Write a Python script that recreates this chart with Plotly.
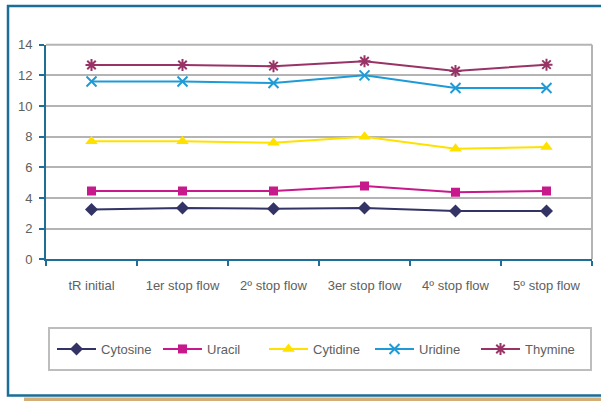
import plotly.graph_objects as go

categories = ['tR initial', '1er stop flow', '2º stop flow', '3er stop flow', '4º stop flow', '5º stop flow']
cytosine = [3.25, 3.35, 3.3, 3.35, 3.15, 3.15]
uracil = [4.45, 4.45, 4.45, 4.78, 4.37, 4.45]
cytidine = [7.7, 7.7, 7.6, 8.0, 7.22, 7.32]
uridine = [11.6, 11.6, 11.5, 12.0, 11.18, 11.18]
thymine = [12.68, 12.68, 12.6, 12.92, 12.28, 12.7]
y_ticks = [0, 2, 4, 6, 8, 10, 12, 14]

series = [
    ('Cytosine', cytosine, '#333366', 'diamond', 10),
    ('Uracil', uracil, '#C8198C', 'square', 9),
    ('Cytidine', cytidine, '#FFE100', 'triangle-up', 11),
    ('Uridine', uridine, '#1E9BD7', 'x-thin-open', 10),
    ('Thymine', thymine, '#993366', 'asterisk-open', 10),
]

W, H = 601, 401
axis_blue = '#1F6E96'
grid_gray = '#B4B4B4'
text_gray = '#606060'
font_family = 'Liberation Sans, Arial, sans-serif'

fig = go.Figure()
for name, vals, color, symbol, size in series:
    fig.add_trace(go.Scatter(
        x=categories, y=vals, name=name, mode='lines+markers',
        line=dict(color=color, width=2),
        marker=dict(symbol=symbol, size=size, color=color,
                    line=dict(color=color, width=2 if 'open' in symbol else 0))))

x0, x1 = 46 / W, 592 / W
y0, y1 = 1 - 259.3 / H, 1 - 44.7 / H

fig.update_xaxes(type='category', domain=[x0, x1], range=[-0.5, 5.5],
                 tickson='boundaries', ticks='outside', ticklen=5, tickwidth=2,
                 tickcolor=axis_blue, showline=True, linecolor=axis_blue, linewidth=2,
                 showgrid=False, ticklabelstandoff=13, automargin=False,
                 tickfont=dict(family=font_family, size=13, color=text_gray))
fig.update_yaxes(domain=[y0, y1], range=[0, 14], tickvals=y_ticks,
                 ticks='outside', ticklen=5, tickwidth=2, tickcolor=axis_blue,
                 showline=True, linecolor=axis_blue, linewidth=2,
                 showgrid=True, gridcolor=grid_gray, gridwidth=2, zeroline=False,
                 ticklabelstandoff=4, automargin=False,
                 tickfont=dict(family=font_family, size=13, color=text_gray))

shapes = [
    # plot area top/right border
    dict(type='line', xref='x domain', yref='y domain', x0=0, x1=1, y0=1, y1=1,
         line=dict(color=grid_gray, width=2), layer='below'),
    dict(type='line', xref='x domain', yref='y domain', x0=1, x1=1, y0=0, y1=1,
         line=dict(color=grid_gray, width=2), layer='below'),
    # legend box
    dict(type='rect', xref='paper', yref='paper', x0=49 / W, x1=591 / W,
         y0=1 - 370 / H, y1=1 - 328 / H, line=dict(color='#BDBDBD', width=2)),
    # outer frame
    dict(type='rect', xref='paper', yref='paper', x0=8 / W, x1=610 / W,
         y0=1 - 395.5 / H, y1=1 - 6 / H, line=dict(color='#1A6E97', width=2.5)),
    # shadow band
    dict(type='rect', xref='paper', yref='paper', x0=24 / W, x1=1.02,
         y0=0, y1=1 - 397.5 / H, line=dict(width=0), fillcolor='#D2AE78'),
]

fig.update_layout(
    width=W, height=H, margin=dict(l=0, r=0, t=0, b=0, pad=0, autoexpand=False),
    paper_bgcolor='white', plot_bgcolor='white',
    shapes=shapes,
    showlegend=True,
    legend=dict(orientation='h', x=52 / W, xanchor='left', y=1 - 349 / H, yanchor='middle',
                entrywidth=52, itemwidth=39, bgcolor='rgba(0,0,0,0)', borderwidth=0,
                font=dict(family=font_family, size=13, color=text_gray)),
)

fig.write_html('out.html', config={'displayModeBar': False},
               post_script="document.body.style.margin='0';")
